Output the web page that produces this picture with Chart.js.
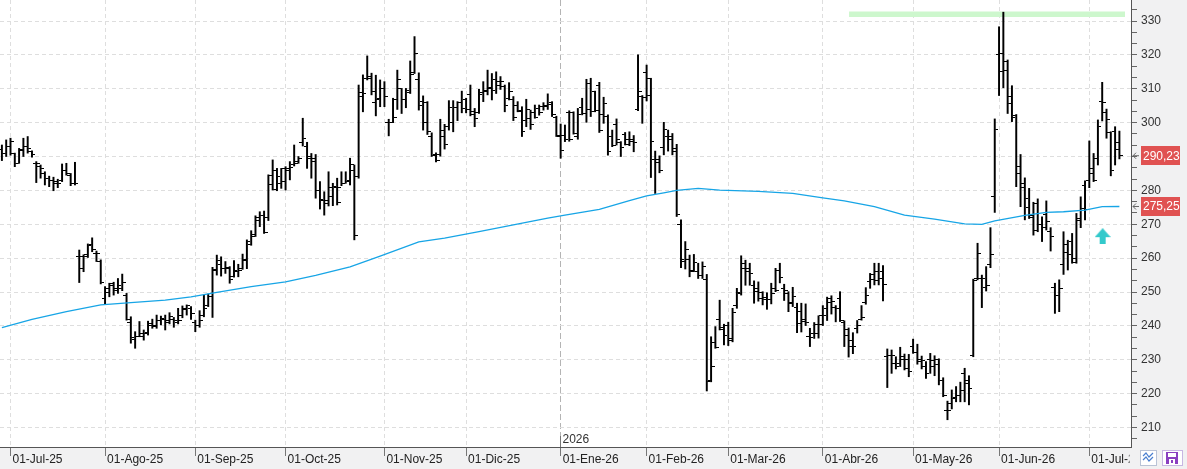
<!DOCTYPE html>
<html><head><meta charset="utf-8">
<script src="https://cdn.jsdelivr.net/npm/chart.js@4.4.1/dist/chart.umd.min.js"></script>
<style>html,body{margin:0;padding:0;background:#fff;overflow:hidden}canvas{display:block}</style>
</head><body>
<canvas id="c" width="1187" height="469"></canvas>
<script>
// ---- daily OHLC (bar index 0 = 27-Jun-25) ----
const opens = [
292,291,293,291,288,292,293,291.5,288,287,
285,283.5,283,282,283,286,284.5,282,260.6,257,
261,264,261.5,259,248,250,252.5,251,251,249,
241,236,237,237,238,240,240,241.5,242,241,
242,241,243,245,245,241,240,243,246,248.6,
256.5,258,257,257,254.5,256,257,259.2,264,267,
271,272.7,272,284.5,285.9,282,286.5,286,287.5,288.5,
294,293,290,289.5,280,277,277,281,281,281,
282,283,286,284,309,313,313.5,306,307,310,
300,300,306.9,310,306.7,308.8,314.8,312.6,306.2,306,
296,290.5,290.6,297.8,299,300,304.5,306,306.7,308.2,
303.2,302.9,309,309.6,310.1,312.8,312.1,310.6,307,306.7,
305,303.4,300.6,301.3,303,304.2,304.7,305.2,305.9,301.5,
296,296.3,303,302.9,296,304.4,302.7,311.6,309.1,311,
302.3,301.8,296,299.5,294,296.5,295,295,304,307.7,
314.9,313,289,289,292.6,296,295.9,292.4,270,259,
259.5,256.5,256.2,255,253.6,224,235,242,239,240,
236.3,246,249.6,258.5,257,252,251,248,248.5,247.9,
251,256.3,251,249.6,247,245.5,244.2,241.8,237,237.8,
240.5,243.2,245,247,245.5,248,241,239,235.6,239.3,
242,247,253,255.2,256,256,231,231.4,229,229,
230,230,234,232.2,230,228,230,228,230,224,
215,217,219,219.5,226,224,231.4,254.1,254,251.3,
258,278.1,320,315,318,307.7,302,287,282,275,
272,276.2,270,273,268,251.3,249.1,258,264.1,265,
260,271,281.4,283,285,289.5,306.2,303,297,297.5,292.2];
const highs = [
293.4,294.9,295.4,291,292.4,295.4,295.9,291.7,288.5,287.5,
285.5,284.2,283.9,283.3,287.8,288,285,288.3,262.4,261,
264.2,266,262.1,259.5,251.6,252.6,252.9,254,255.3,249.6,
242.7,238.3,241.3,238.8,241.4,242,243.2,242.9,243.2,243.9,
242.5,245.2,245.9,246.2,245.7,241.7,244.5,249.1,249.4,257.3,
260.9,260.4,259,257.5,259.3,258.2,261.2,265.4,268.1,272.5,
273.7,273.9,284.6,289,286.5,286.5,287,288.5,293.4,290,
301.3,294.2,290.9,290.6,282.6,279.6,285.5,282.1,283.6,285.5,
285.5,289.5,287.5,311.1,314.1,319.7,314.6,314,312.6,312.1,
301,307.2,315.5,310.1,310.1,318.2,325.4,314.7,307.9,306.2,
297,291.1,301,299.5,306.5,306.5,306.2,309.3,307.2,311.1,
304.2,309.8,312.1,315.5,314.5,315,313.6,311.1,311.8,307.7,
306.2,304.7,306.9,303.7,305.2,305.2,305.9,308.5,306.2,301.9,
299.6,299.3,303.5,303.2,304.2,307.2,312.8,313.1,309.3,311.9,
307.5,302.3,297.8,301.1,294.4,297.1,297.3,296.2,320,308,
317,313.1,291.6,290.2,300.1,297.8,296.8,293.6,271.3,264.9,
260.9,261.1,258.5,258.9,255.2,236.8,239.8,247.6,240.5,241.1,
245.2,251.1,260.7,259.4,258.5,253.3,253,250.1,249.8,252.6,
257,258.5,252.3,250.1,251.4,246.7,246.7,246.5,239.3,241,
243,246,248.5,248.9,246,250.1,241.5,239.4,238,241.6,
246,251.3,255.5,258.5,258.5,257.8,233.2,232.9,230.9,233.7,
231.7,231.6,236.1,234.6,231.1,229.5,231.9,231.2,230.3,224.7,
217.8,221.1,222.1,223.4,227.5,225.3,253.8,264.4,255,257.5,
269,301.1,328.3,332.6,318.5,310.9,302.4,290.6,283.7,280.6,
276.5,277.5,272.2,276.9,269,252.6,253.6,267.8,265.3,267.3,
273.2,278.1,282.8,294.6,290.9,300.8,311.9,304,297.3,298.8,297.5];
const lows = [
288.8,290,290.4,287,288,290,291,289.8,282.3,283.6,
281.6,281.1,279.9,280.8,282.6,284.5,281.4,281.6,252.8,256,
260.2,261.9,259,252.4,246.5,248.6,249.1,249.6,250.4,241.7,
234.9,233.4,236.8,235.8,237.3,239.3,239.3,240.3,238.8,240.6,
239.6,240.6,242.4,243.2,241.9,238.3,239.6,242.7,245.7,242.5,
255,254.7,255.5,252.6,254.4,254.5,256.7,256.9,263.8,266.4,
269.3,267.3,271.1,280.1,279.9,280.6,280.1,283.1,287.2,288,
293.1,286.5,283.6,277.7,274.5,272.7,275.4,275.5,275.7,281.4,
282.1,281.6,265.4,283.6,303.2,312.6,308.2,302,304.7,304.7,
296.1,300,303.9,302.7,304.4,308.6,314.5,303.7,297.8,296.5,
290,288.4,290.1,292.2,297.8,297.3,300.6,302.9,302.9,302,
298.8,302.7,306.2,308.2,306.7,308.6,309.8,303.2,306.7,300.6,
303.2,295.9,298.8,298,301.3,302.2,303.7,303.9,301.8,295.9,
289.5,294.4,294.5,296.6,295.1,302.3,300.1,301.8,303.2,297.1,
299.8,290.4,292.9,293.4,290,293.4,293.2,291.4,303.5,299.8,
306.4,283.8,279.1,285.2,290.5,291.6,290.5,272.3,257.2,256.8,
254.5,256,254,254,220.8,223.5,233.4,238.8,234.4,234.2,
235.3,245.2,249.1,252,252,246.7,247.3,246.2,244.9,246.5,
250.1,252.7,247.5,244.2,245.7,238,238.2,240.1,233.9,236.3,
236.4,240.1,241.6,243.5,241.2,241.3,233.9,230.8,231.8,237.9,
241.7,246.4,251.1,252.1,252.1,247.4,221.8,226,227.3,228,
227,225,231.9,228.7,227.3,224.5,226,225.3,222.6,219.1,
212.3,215.5,217.6,217.6,217.6,216.7,230.9,253.6,245.4,250.3,
257.2,273.5,308,310.3,302.7,300.3,281.1,275.2,271.3,271.7,
266.8,267.8,264.9,268.3,262.1,243.7,244.2,255.2,256.5,258.5,
258.5,269,271.3,280.8,282.6,287.5,300.5,295.4,284.3,287.5,289.3];
const closes = [
291,293,294.5,288,291.7,293,292.5,290.5,288,286.5,
283.5,283,282.5,282,286,285,282,282,260.5,260.5,
263.8,262.5,261.5,252.8,251,251.9,250.5,252,252.8,242,
236.6,236.8,237.8,237.8,240.8,239.8,241.7,242.2,241.7,242.7,
241.7,241.7,244.7,245.9,243.7,240.1,241.5,245.2,248.6,256.7,
259.3,257,257.2,253.8,256.5,256.3,259.5,265,266.3,272.1,
272.7,267.5,281.6,280.4,284,282.6,286.5,286.8,287.8,289.5,
295.4,289.5,288.5,280,277.4,276,278.2,281.1,276.5,282.1,
282.6,287.5,266.8,307.7,308.7,313.1,309.1,306.7,310.1,307.7,
300,301.6,312.8,306.7,309.4,314.1,320.3,305.2,300,297.3,
290.2,288.7,295.8,293.6,304.5,304.5,306,304.2,304,302.3,
301.3,308.2,309.1,310.5,309.4,311.1,312,305,309.1,301.5,
303.7,297.5,304,299.5,301.6,303,304.9,305.5,302.5,296.1,
291.7,295,294.9,296.8,302.5,302.7,304,303.4,303.7,297.8,
305.7,291.6,293.4,294.9,292.6,293.6,294.4,294.1,309.1,307.5,
308,294.4,288.3,286,298,294.9,291.5,272.9,259.7,262.7,
256,258.8,255,257.5,223.5,228,233.7,239.5,237.3,235.8,
244,249.9,257,256,255.5,250.3,250,247.7,247.8,249.6,
250.6,254.3,250.5,246.5,248.6,240.8,241.3,241,236.5,237.8,
240.5,243.2,248.2,247.2,245.2,241.6,237.3,234,233.9,240,
242.4,249.1,253.6,253.4,254,252.1,231.4,231.2,228,230.9,
227.3,226.5,232.2,229.5,229.9,226,229.9,228.5,224,219.4,
214.9,218.6,219.6,221,223,221.4,253.3,261.4,254,252,
261.1,298.1,320.5,315.5,305.7,301.5,285,280.8,277.7,272.7,
268.3,270,269,270.8,266.3,249,251,261.7,261,258.8,
271.7,274.7,274.5,286.5,283,299,306,301,286,294,290.23];

// ---- long moving average, read at selected bars ----
const maIndex  = [0,7,15,23,30,38,44,50,58,66,73,81,88,97,103,111,119,127,131,139,146,150,154,157,162,167,176,184,191,196,203,210,217,224,228,231,238,243,247,252,256,260];
const maValues = [239.5,241.9,244.2,246.2,246.9,247.6,248.6,249.9,251.6,253.0,254.9,257.4,260.6,264.8,265.9,267.8,269.8,271.8,272.7,274.4,277.0,278.4,279.3,280.0,280.6,280.1,279.7,279.1,277.8,276.9,275.2,272.7,271.5,270.1,270.0,271.0,272.6,273.5,273.7,274.2,275.2,275.25];

// ---- axis ticks ----
const monthTickIndex  = [2,24,45,66,89,108,130,150,169,191,212,232,253];
const monthTickLabels = ['01-Jul-25','01-Ago-25','01-Sep-25','01-Oct-25','01-Nov-25','01-Dic-25','01-Ene-26','01-Feb-26','01-Mar-26','01-Abr-26','01-May-26','01-Jun-26','01-Jul-26'];
const yearBoundaryIndex = 130;
const yearLabel = '2026';
const yTicks = [210,220,230,240,250,260,270,280,290,300,310,320,330];

// ---- annotations ----
const lastClose = 290.23, lastCloseText = '290,23';
const lastMA = 275.25, lastMAText = '275,25';
const zoneFrom = 197.1, zoneTo = 261.3, zoneLevel = 332;
const signalIndex = 256.1, signalLevel = 266.5;

// ------------------------------------------------------------
const FONT = '"Liberation Sans", Arial, sans-serif';
Chart.defaults.font.family = FONT;
Chart.defaults.font.size = 12;

const isMajor = v => Math.abs(v - Math.round(v / 10) * 10) < 0.01;
const yAll = [];
for (let k = 0; k <= 42; k++) { const v = 200 + k * 10 / 3; if (v > 204.3 && v < 336.2) yAll.push(isMajor(v) ? Math.round(v) : v); }

function tickImg(side) {
  const c = document.createElement('canvas'); c.width = 7; c.height = 1;
  const g = c.getContext('2d'); g.fillStyle = '#000';
  if (side === 'L') g.fillRect(0, 0, 3, 1); else g.fillRect(4, 0, 3, 1);
  return c;
}
function arrowImg() {
  const c = document.createElement('canvas'); c.width = 16; c.height = 16;
  const g = c.getContext('2d'); g.fillStyle = '#33c9cb';
  g.beginPath(); g.moveTo(8, 0); g.lineTo(16, 9); g.lineTo(0, 9); g.closePath(); g.fill();
  g.fillRect(5, 9, 6, 7);
  return c;
}
const noPad = s => { s.paddingLeft = 0; s.paddingRight = 0; s.paddingTop = 0; s.paddingBottom = 0; };

const hlData = highs.map((h, i) => ({x: i, y: [lows[i], h]}));
const openData = opens.map((v, i) => ({x: i, y: v}));
const closeData = closes.map((v, i) => ({x: i, y: v}));
const maData = maIndex.map((x, k) => ({x: x, y: maValues[k]}));

const decor = {
  id: 'decor',
  beforeDraw(chart) {
    const {ctx, chartArea: a} = chart;
    ctx.save();
    ctx.fillStyle = '#f1f1f2'; ctx.fillRect(0, 0, chart.width, chart.height);
    ctx.fillStyle = '#ffffff'; ctx.fillRect(a.left, a.top, a.right - a.left, a.bottom - a.top);
    ctx.restore();
  },
  afterDraw(chart) {
    const {ctx, chartArea: a, scales: {x, y}} = chart;
    ctx.save();
    // year boundary label
    const yx = Math.round(x.getPixelForValue(yearBoundaryIndex)) - 0.5;
    ctx.strokeStyle = '#777'; ctx.lineWidth = 1; ctx.setLineDash([]);
    ctx.beginPath(); ctx.moveTo(yx, a.bottom - 11); ctx.lineTo(yx, a.bottom); ctx.stroke();
    ctx.fillStyle = '#333'; ctx.font = '12px ' + FONT; ctx.textBaseline = 'alphabetic'; ctx.textAlign = 'left';
    ctx.fillText(yearLabel, yx + 2, a.bottom - 4);
    // value boxes
    [[lastClose, lastCloseText], [lastMA, lastMAText]].forEach(([v, t]) => {
      const py = y.getPixelForValue(v);
      ctx.fillStyle = '#e05252';
      ctx.fillRect(1141, Math.round(py - 9.5), 39, 19);
      ctx.fillStyle = '#ffffff'; ctx.font = '12px ' + FONT; ctx.textBaseline = 'middle'; ctx.textAlign = 'left';
      ctx.fillText(t, 1143, py + 0.5);
      ctx.strokeStyle = '#666'; ctx.lineWidth = 1;
      ctx.beginPath();
      ctx.moveTo(1133, py); ctx.lineTo(1139, py);
      ctx.moveTo(1136, py - 3); ctx.lineTo(1133, py); ctx.lineTo(1136, py + 3);
      ctx.stroke();
    });
    // bottom-right toolbar (also clips the last month label like the original)
    ctx.fillStyle = '#f1f1f2'; ctx.fillRect(a.right - 1.5, a.bottom + 1, chart.width - a.right + 2, chart.height - a.bottom);
    ctx.fillStyle = '#ffffff'; ctx.strokeStyle = '#b9c3d6';
    ctx.fillRect(1140, 450, 16, 15); ctx.strokeRect(1140.5, 450.5, 16, 15);
    ctx.strokeStyle = '#4a7fd0'; ctx.lineWidth = 1.2;
    ctx.beginPath(); ctx.moveTo(1143, 456); ctx.lineTo(1146, 453); ctx.lineTo(1149, 457); ctx.lineTo(1153, 453);
    ctx.moveTo(1143, 460); ctx.lineTo(1146, 457); ctx.lineTo(1149, 461); ctx.lineTo(1153, 457); ctx.stroke();
    ctx.fillStyle = '#ffffff'; ctx.strokeStyle = '#c7b6e2'; ctx.lineWidth = 1;
    ctx.fillRect(1162, 450, 20, 15); ctx.strokeRect(1162.5, 450.5, 20, 15);
    ctx.fillStyle = '#8a3fc0'; ctx.fillRect(1166, 452, 12, 12);
    ctx.fillStyle = '#ffffff'; ctx.fillRect(1168, 453, 8, 4); ctx.fillRect(1169, 459, 6, 5);
    ctx.fillStyle = '#8a3fc0'; ctx.fillRect(1171, 460, 2, 3);
    ctx.restore();
  }
};

new Chart(document.getElementById('c'), {
  type: 'bar',
  data: {
    datasets: [
      {type: 'line', data: maData, borderColor: '#17a5e6', borderWidth: 1.3, pointRadius: 0, tension: 0, order: 0},
      {type: 'line', data: [{x: zoneFrom, y: zoneLevel}, {x: zoneTo, y: zoneLevel}], borderColor: '#cdf7cd', borderWidth: 5.5, borderCapStyle: 'butt', pointRadius: 0, order: 5},
      {type: 'bar', data: hlData, backgroundColor: '#000', borderWidth: 0, barThickness: 1.3, order: 3},
      {type: 'line', data: openData, showLine: false, pointStyle: tickImg('L'), pointRadius: 2, order: 2},
      {type: 'line', data: closeData, showLine: false, pointStyle: tickImg('R'), pointRadius: 2, order: 2},
      {type: 'line', data: [{x: signalIndex, y: signalLevel}], showLine: false, pointStyle: arrowImg(), pointRadius: 8, order: 1}
    ]
  },
  options: {
    responsive: false, animation: false, devicePixelRatio: 1, events: [],
    layout: {padding: 0, autoPadding: false},
    plugins: {legend: {display: false}, tooltip: {enabled: false}},
    scales: {
      x: {
        type: 'linear', min: -0.442, max: 262.7, offset: false, bounds: 'data',
        afterBuildTicks: s => { s.ticks = monthTickIndex.map(v => ({value: v})); },
        afterFit: s => { s.height = 22; noPad(s); },
        ticks: {autoSkip: false, maxRotation: 0, minRotation: 0, align: 'start', labelOffset: 2, padding: -4,
                color: '#222', font: {size: 12}, callback: (v, i) => monthTickLabels[i]},
        grid: {offset: false, color: c => (c.tick && c.tick.value === yearBoundaryIndex) ? '#b4b4b4' : '#dedede',
               lineWidth: 1, tickLength: 9, tickColor: '#777', tickBorderDash: []},
        border: {color: '#555', width: 1, dash: c => c.type === 'tick' ? ((c.tick && c.tick.value === yearBoundaryIndex) ? [6, 3] : [4, 3]) : []}
      },
      y: {
        type: 'linear', position: 'right', min: 204.26, max: 336.2, bounds: 'data',
        afterBuildTicks: s => { s.ticks = yAll.map(v => ({value: v})); },
        afterFit: s => { s.width = 56; noPad(s); },
        ticks: {autoSkip: false, padding: 4, color: '#333', font: {size: 12},
                callback: v => (isMajor(v) && yTicks.includes(Math.round(v))) ? String(Math.round(v)) : ''},
        grid: {color: c => (c.tick && isMajor(c.tick.value)) ? '#dedede' : 'rgba(0,0,0,0)',
               lineWidth: 1, tickLength: 6, tickColor: '#666', tickBorderDash: []},
        border: {color: '#555', width: 1, dash: c => c.type === 'tick' ? [4, 3] : []}
      }
    }
  },
  plugins: [decor]
});
</script>
</body></html>
